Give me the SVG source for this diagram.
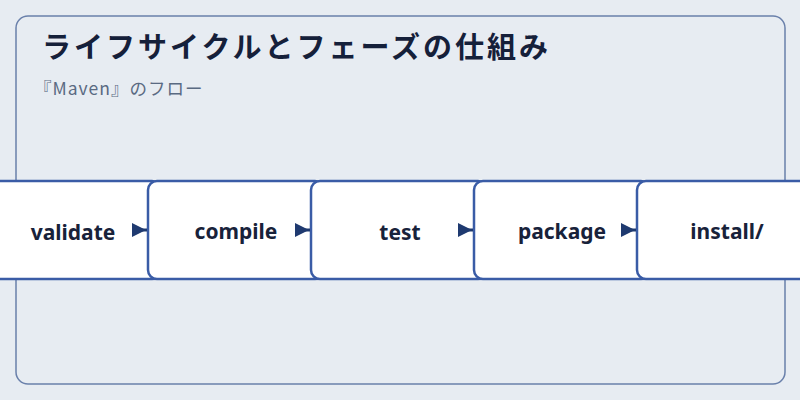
<svg xmlns="http://www.w3.org/2000/svg" width="800" height="400" viewBox="0 0 800 400">
<style>
.bg{fill:#e7ecf2}
.frame{fill:none;stroke:#6a80ab;stroke-width:1.5}
.title{font-family:"Noto Sans CJK JP","Noto Sans",sans-serif;font-weight:700;font-size:29px;letter-spacing:3px;fill:#15203a}
.sub{font-family:"Noto Sans CJK JP","Noto Sans",sans-serif;font-size:17.5px;letter-spacing:1px;fill:#5a6a82}
.box{fill:#ffffff;stroke:#3a5ca6;stroke-width:2.5}
.lbl{font-family:"Noto Sans","Noto Sans CJK JP",sans-serif;font-weight:700;font-size:21px;fill:#18223a;text-anchor:middle}
.conn{stroke:#1f3a70;stroke-width:3;fill:none}
.head{fill:#1f3a70}
</style>
<rect class="bg" x="0" y="0" width="800" height="400"/>
<rect class="frame" x="16" y="16" width="769" height="368" rx="12"/>
<text class="title" x="42" y="58">ライフサイクルとフェーズの仕組み</text>
<text class="sub" x="34" y="95">『Maven』のフロー</text>
<g id="validate"><rect class="box" x="-15" y="181" width="176" height="98" rx="9"/><text class="lbl" x="73" y="240">validate</text></g>
<g id="compile"><rect class="box" x="148" y="181" width="176" height="98" rx="9"/><text class="lbl" x="236" y="239">compile</text></g>
<g id="test"><rect class="box" x="311" y="181" width="176" height="98" rx="9"/><text class="lbl" x="400" y="240">test</text></g>
<g id="package"><rect class="box" x="474" y="181" width="176" height="98" rx="9"/><text class="lbl" x="562" y="239">package</text></g>
<g id="install"><rect class="box" x="637" y="181" width="176" height="98" rx="9"/><text class="lbl" x="727" y="239">install/</text></g>
<g id="connectors">
<path class="conn" d="M140 230H147"/><path class="head" d="M132 223L146 230L132 237Z"/>
<path class="conn" d="M303 230H310"/><path class="head" d="M295 223L309 230L295 237Z"/>
<path class="conn" d="M466 230H473"/><path class="head" d="M458 223L472 230L458 237Z"/>
<path class="conn" d="M629 230H636"/><path class="head" d="M621 223L635 230L621 237Z"/>
</g>
</svg>
